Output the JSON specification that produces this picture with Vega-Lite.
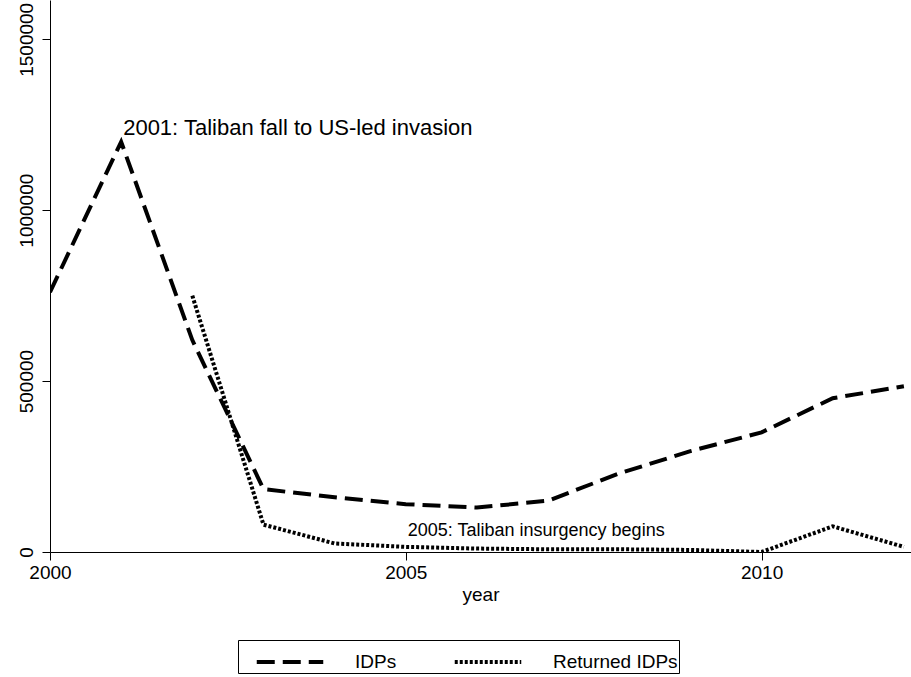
{
  "$schema": "https://vega.github.io/schema/vega-lite/v6.json",
  "width": 861,
  "height": 552,
  "autosize": {"type": "none"},
  "padding": {"left": 50, "top": 0, "right": 0, "bottom": 125},
  "background": "white",
  "config": {
    "view": {"stroke": null},
    "font": "Liberation Sans",
    "axis": {"grid": false, "domainColor": "black", "tickColor": "black", "labelColor": "black", "titleColor": "black", "labelFont": "Liberation Sans", "titleFont": "Liberation Sans", "labelFontSize": 19, "titleFontSize": 19, "titleFontWeight": "normal", "tickSize": 8, "labelFlush": false}
  },
  "datasets": {
    "series": [
      {"year": 2000, "series": "IDPs", "value": 760000},
      {"year": 2001, "series": "IDPs", "value": 1200000},
      {"year": 2002, "series": "IDPs", "value": 620000},
      {"year": 2003, "series": "IDPs", "value": 184000},
      {"year": 2004, "series": "IDPs", "value": 160000},
      {"year": 2005, "series": "IDPs", "value": 140000},
      {"year": 2006, "series": "IDPs", "value": 130000},
      {"year": 2007, "series": "IDPs", "value": 150000},
      {"year": 2008, "series": "IDPs", "value": 230000},
      {"year": 2009, "series": "IDPs", "value": 295000},
      {"year": 2010, "series": "IDPs", "value": 350000},
      {"year": 2011, "series": "IDPs", "value": 450000},
      {"year": 2012, "series": "IDPs", "value": 485000},
      {"year": 2002, "series": "Returned IDPs", "value": 750000},
      {"year": 2003, "series": "Returned IDPs", "value": 80000},
      {"year": 2004, "series": "Returned IDPs", "value": 25000},
      {"year": 2005, "series": "Returned IDPs", "value": 15000},
      {"year": 2006, "series": "Returned IDPs", "value": 10000},
      {"year": 2007, "series": "Returned IDPs", "value": 8000},
      {"year": 2008, "series": "Returned IDPs", "value": 8000},
      {"year": 2009, "series": "Returned IDPs", "value": 6000},
      {"year": 2010, "series": "Returned IDPs", "value": 0},
      {"year": 2011, "series": "Returned IDPs", "value": 75000},
      {"year": 2012, "series": "Returned IDPs", "value": 15000}
    ],
    "notes": [
      {"year": 2001, "value": 1240000, "label": "2001: Taliban fall to US-led invasion", "size": 22},
      {"year": 2005, "value": 60000, "label": "2005: Taliban insurgency begins", "size": 18}
    ]
  },
  "layer": [
    {
      "data": {"name": "series"},
      "mark": {"type": "line", "strokeWidth": 4, "color": "black", "clip": true},
      "encoding": {
        "x": {"field": "year", "type": "quantitative", "scale": {"domain": [2000, 2012.1], "nice": false, "zero": false}, "axis": {"values": [2000, 2005, 2010], "format": "d", "title": "year", "labelPadding": 3, "titlePadding": 3}},
        "y": {"field": "value", "type": "quantitative", "scale": {"domain": [0, 1615000], "nice": false}, "axis": {"values": [0, 500000, 1000000, 1500000], "format": "d", "title": null, "labelAngle": 270, "labelAlign": "center", "labelBaseline": "bottom", "labelPadding": 6}},
        "strokeDash": {"field": "series", "type": "nominal", "scale": {"domain": ["IDPs", "Returned IDPs"], "range": [[18, 8], [3, 2]]}, "legend": {"title": null, "orient": "none", "direction": "horizontal", "legendX": 188, "legendY": 640, "labelFontSize": 19, "labelColor": "black", "symbolType": "M-1.75,0H1.75", "symbolSize": 1444, "symbolStrokeWidth": 4, "symbolStrokeColor": "black", "symbolOffset": 30, "columnPadding": 40, "labelOffset": 44, "strokeColor": "black", "padding": 1, "labelLimit": 300}}
      }
    },
    {
      "data": {"name": "notes"},
      "mark": {"type": "text", "align": "left", "baseline": "middle", "color": "black", "dx": 2},
      "encoding": {
        "x": {"field": "year", "type": "quantitative"},
        "y": {"field": "value", "type": "quantitative"},
        "size": {"field": "size", "type": "quantitative", "scale": null, "legend": null},
        "text": {"field": "label"}
      }
    }
  ]
}
